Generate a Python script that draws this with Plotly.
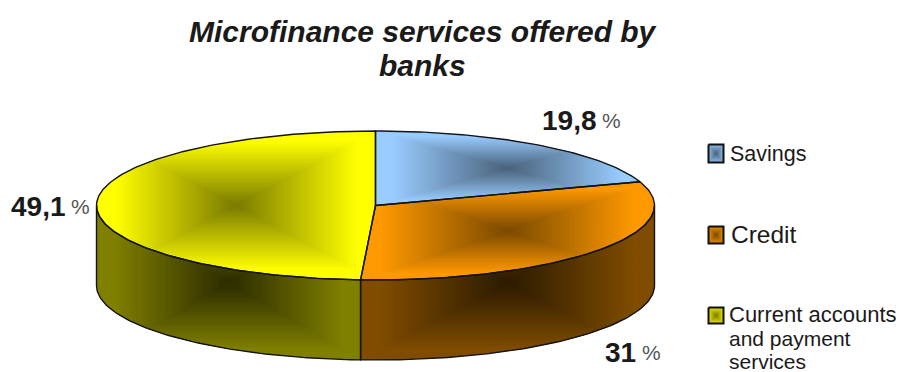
import math
import plotly.graph_objects as go

# Survey shares, in percent, clockwise from twelve o'clock
categories = ["Savings", "Credit", "Current accounts and payment services"]
shares = [19.8, 31.0, 49.1]
share_labels = ["19,8", "31", "49,1"]

edge_colors = [(153, 204, 255), (255, 153, 0), (255, 255, 0)]

# Pie geometry in page pixels
CX, CY, RX, RY, DEPTH = 375.5, 205.5, 279.0, 74.5, 80.0
TOP_DARK, WALL_SHADE, WALL_DARK = 0.47, 0.5, 0.33
LEVELS = 40
PLATEAU = 0.12


def rim(theta, drop=0.0):
    a = math.radians(theta)
    return (CX + RX * math.sin(a), CY - RY * math.cos(a) + drop)


def arc(t0, t1, drop=0.0, step=1.0):
    n = max(2, int(abs(t1 - t0) / step) + 1)
    return [rim(t0 + (t1 - t0) * i / (n - 1), drop) for i in range(n)]


def clip_half(poly, inside, cross):
    out = []
    for i, p in enumerate(poly):
        q = poly[(i + 1) % len(poly)]
        if inside(p):
            out.append(p)
        if inside(p) != inside(q):
            out.append(cross(p, q))
    return out


def clip_rect(poly, x0, x1, y0, y1):
    def at_x(v):
        return lambda p, q: (v, p[1] + (q[1] - p[1]) * (v - p[0]) / (q[0] - p[0]))

    def at_y(v):
        return lambda p, q: (p[0] + (q[0] - p[0]) * (v - p[1]) / (q[1] - p[1]), v)

    for inside, cross in (
        (lambda p: p[0] >= x0, at_x(x0)),
        (lambda p: p[0] <= x1, at_x(x1)),
        (lambda p: p[1] >= y0, at_y(y0)),
        (lambda p: p[1] <= y1, at_y(y1)),
    ):
        if not poly:
            return []
        poly = clip_half(poly, inside, cross)
    return poly


def rgb(c):
    return "rgb(%d,%d,%d)" % tuple(round(v) for v in c)


def add_poly(fig, poly, fill=None, line=None, width=1.4):
    xs = [p[0] for p in poly] + [poly[0][0]]
    ys = [p[1] for p in poly] + [poly[0][1]]
    fig.add_trace(go.Scatter(
        x=xs, y=ys, mode="lines", hoverinfo="skip", showlegend=False,
        fill="toself" if fill else "none",
        fillcolor=fill,
        line=dict(color=line or "rgba(0,0,0,0)", width=width if line else 0),
    ))


def shaded(fig, poly, edge, centre, levels=LEVELS):
    """Box-shaped gradient: light near the bounding box, dark at its middle."""
    xs, ys = [p[0] for p in poly], [p[1] for p in poly]
    mx, my = (min(xs) + max(xs)) / 2, (min(ys) + max(ys)) / 2
    hw, hh = (max(xs) - min(xs)) / 2, (max(ys) - min(ys)) / 2
    for i in range(levels):
        t = 1 - i / levels
        part = clip_rect(poly, mx - hw * t, mx + hw * t, my - hh * t, my + hh * t)
        if len(part) >= 3:
            s = max(0.0, (1 - t - PLATEAU) / (1 - PLATEAU))
            col = [e + (c - e) * s for e, c in zip(edge, centre)]
            add_poly(fig, part, fill=rgb(col))


fig = go.Figure()

# Slice boundaries follow from the shares
total = sum(shares)
bounds = [0.0]
for s in shares:
    bounds.append(bounds[-1] + 360.0 * s / total)
bounds[-1] = 360.0

outlines = []
for k, edge in enumerate(edge_colors):
    t0, t1 = bounds[k], bounds[k + 1]

    # Side wall for the part of the slice on the front half of the rim
    w0, w1 = max(t0, 90.0), min(t1, 270.0)
    if w1 > w0:
        wall = arc(w0, w1) + arc(w1, w0, DEPTH)
        shaded(fig, wall, [v * WALL_SHADE for v in edge], [v * WALL_DARK * 0.5 for v in edge])
        outlines.append(wall)

    top = [(CX, CY)] + arc(t0, t1)
    shaded(fig, top, edge, [v * TOP_DARK for v in edge])
    outlines.append(top)

for poly in outlines:
    add_poly(fig, poly, line="#141414")

# Legend keys
key_boxes = [(708.5, 723.5, 144.5, 162.5), (708.5, 723.5, 226.5, 243.5), (708.5, 723.5, 307.5, 323.5)]
for (x0, x1, y0, y1), edge in zip(key_boxes, edge_colors):
    box = [(x0, y0), (x1, y0), (x1, y1), (x0, y1)]
    shaded(fig, box, [v * 0.85 for v in edge], [v * 0.45 for v in edge], levels=8)
    add_poly(fig, box, line="#101010", width=2.0)

TEXT = "#1a1a1a"
SANS = "Liberation Sans"


def note(x, y, text, size, anchor="left", family=SANS, color=TEXT):
    fig.add_annotation(
        x=x, y=y, xref="x", yref="y", text=text, showarrow=False,
        xanchor=anchor, yanchor="middle", align=anchor, borderpad=0,
        font=dict(family=family, size=size, color=color),
    )


# Title
note(422.5, 31, "<b><i>Microfinance services offered by</i></b>", 30, "center")
note(422.5, 65, "<b><i>banks</i></b>", 30, "center")

# Share labels around the pie, number and percent sign set separately
PCT_FONT = "Liberation Sans Narrow, Liberation Sans"
label_spots = [(541, 601, 120), (604, 641, 352), (10, 70, 206)]
for text, (xn, xp, y) in zip(share_labels, label_spots):
    note(xn, y, "<b>%s</b>" % text, 28)
    note(xp, y, "%", 21, family=PCT_FONT, color="#555555")

# Legend entries
note(729, 154, categories[0], 21.5)
note(730, 234, categories[1], 24.5)
note(728, 314, "Current accounts", 22)
note(728, 338, "and payment", 21)
note(728, 361, "services", 21)

fig.update_layout(
    width=899, height=372, autosize=False,
    margin=dict(l=0, r=0, t=0, b=0),
    paper_bgcolor="white", plot_bgcolor="white",
    showlegend=False,
    xaxis=dict(range=[0, 899], visible=False, fixedrange=True),
    yaxis=dict(range=[372, 0], visible=False, fixedrange=True),
)

fig.write_html("out.html", config={"displayModeBar": False})
